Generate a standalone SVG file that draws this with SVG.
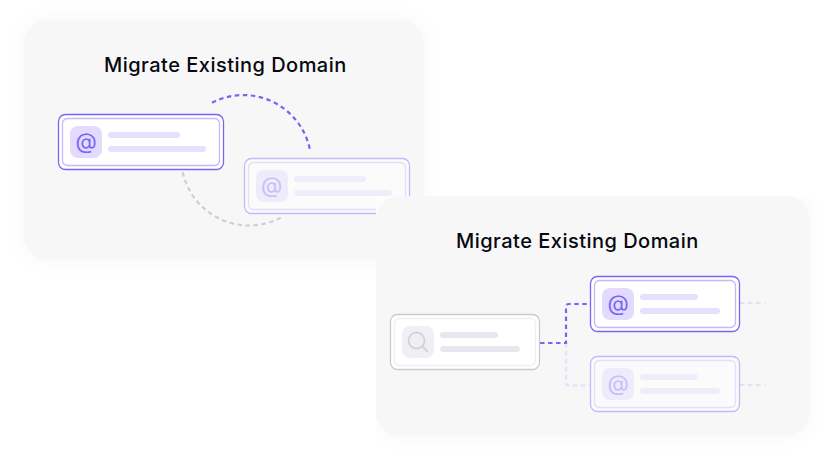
<svg xmlns="http://www.w3.org/2000/svg" width="834" height="458" viewBox="0 0 834 458">
  <defs>
    <style>
      text { font-family: Inter, "Liberation Sans", sans-serif; }
      .title { font-size: 20px; font-weight: 450; letter-spacing: 0.48px; fill: #08080f; }
      .panel { fill: #f7f7f7; }
      .outer { fill: #fff; stroke: #7666f5; stroke-width: 1.3; }
      .inner { fill: #fff; stroke: #c3baf8; stroke-width: 1.3; }
      .bar { fill: #e7dffe; }
      .tile { fill: #e4dafe; }
      .at { font-size: 22px; fill: #7666f5; text-anchor: middle; }
      .dim .outer { fill: #fbfbfc; stroke: #c3baf8; }
      .dim .inner { fill: #fbfbfc; stroke: #e3dffb; }
      .dim .bar { fill: #f0edfa; }
      .dim .tile { fill: #efebfb; }
      .dim .at { fill: #c8bff7; }
      .gray .outer { fill: #fff; stroke: #cbcad3; }
      .gray .inner { fill: #fff; stroke: #efeef6; }
      .gray .bar { fill: #e8e7ef; }
      .gray .tile { fill: #efeff4; }
      .lens { fill: none; stroke: #d3d2da; stroke-width: 1.8; stroke-linecap: round; }
      .dash { fill: none; stroke-width: 2.2; stroke-dasharray: 4.500 3.500; }
      .p { stroke: #7666f5; }
      .g { stroke: #d0cfd7; }
      .l { stroke: #e3e0f8; }
    </style>
    <filter id="soft" x="-15%" y="-25%" width="130%" height="150%">
      <feDropShadow dx="0" dy="0" stdDeviation="10" flood-color="#000" flood-opacity="0.035"/>
    </filter>
    <clipPath id="clip-right">
      <rect x="376" y="196" width="458" height="262"/>
    </clipPath>
  </defs>

  <g id="panel-left">
    <rect class="panel" x="24" y="20" width="400" height="240" rx="24" filter="url(#soft)"/>
    <text class="title" x="104" y="72">Migrate Existing Domain</text>
  </g>

  <g id="connectors-left">
    <path class="dash p" d="M212 102.700A68 68 0 0 1 310 150"/>
    <path class="dash g" d="M182.700 172.300A68 68 0 0 0 280.700 217.700"/>
  </g>

  <g id="node-left-active">
    <rect class="outer" x="58.500" y="114.500" width="165" height="55" rx="7"/>
    <rect class="inner" x="62.500" y="118.500" width="157" height="47" rx="5"/>
    <rect class="tile" x="70" y="126" width="32" height="32" rx="8"/>
    <text class="at" x="86" y="148.500">@</text>
    <rect class="bar" x="108" y="132" width="72" height="6" rx="3"/>
    <rect class="bar" x="108" y="146" width="98" height="6" rx="3"/>
  </g>

  <g id="node-left-dim" class="dim">
    <rect class="outer" x="244.500" y="158.500" width="165" height="55" rx="7"/>
    <rect class="inner" x="248.500" y="162.500" width="157" height="47" rx="5"/>
    <rect class="tile" x="256" y="170" width="32" height="32" rx="8"/>
    <text class="at" x="271.500" y="192.500">@</text>
    <rect class="bar" x="294" y="176" width="72" height="6" rx="3"/>
    <rect class="bar" x="294" y="190" width="98" height="6" rx="3"/>
  </g>

  <g id="panel-right">
    <g clip-path="url(#clip-right)">
      <rect x="376" y="196" width="458" height="262" fill="#fff"/>
      <rect class="panel" x="376" y="196" width="434" height="240" rx="24" filter="url(#soft)"/>
    </g>
    <text class="title" x="456" y="248">Migrate Existing Domain</text>
  </g>

  <g id="connectors-right">
    <path class="dash l" d="M566 343V382Q566 385.500 569 385.500H590"/>
    <path class="dash l" d="M740 303H765"/>
    <path class="dash l" d="M740 385H765"/>
    <path class="dash p" d="M540 343H566V307Q566 304 569 304H590"/>
  </g>

  <g id="node-search" class="gray">
    <rect class="outer" x="390.500" y="314.500" width="149" height="55" rx="7"/>
    <rect class="inner" x="394.500" y="318.500" width="141" height="47" rx="5"/>
    <rect class="tile" x="402" y="326" width="32" height="32" rx="8"/>
    <circle class="lens" cx="416.500" cy="340.500" r="8"/>
    <path class="lens" d="M422.500 346.500L427.500 351.500"/>
    <rect class="bar" x="440" y="332" width="58" height="6" rx="3"/>
    <rect class="bar" x="440" y="346" width="80" height="6" rx="3"/>
  </g>

  <g id="node-right-active">
    <rect class="outer" x="590.500" y="276.500" width="149" height="55" rx="7"/>
    <rect class="inner" x="594.500" y="280.500" width="141" height="47" rx="5"/>
    <rect class="tile" x="602" y="288" width="32" height="32" rx="8"/>
    <text class="at" x="618" y="310.500">@</text>
    <rect class="bar" x="640" y="294" width="58" height="6" rx="3"/>
    <rect class="bar" x="640" y="308" width="80" height="6" rx="3"/>
  </g>

  <g id="node-right-dim" class="dim">
    <rect class="outer" x="590.500" y="356.500" width="149" height="55" rx="7"/>
    <rect class="inner" x="594.500" y="360.500" width="141" height="47" rx="5"/>
    <rect class="tile" x="602" y="368" width="32" height="32" rx="8"/>
    <text class="at" x="618" y="390.500">@</text>
    <rect class="bar" x="640" y="374" width="58" height="6" rx="3"/>
    <rect class="bar" x="640" y="388" width="80" height="6" rx="3"/>
  </g>
</svg>
